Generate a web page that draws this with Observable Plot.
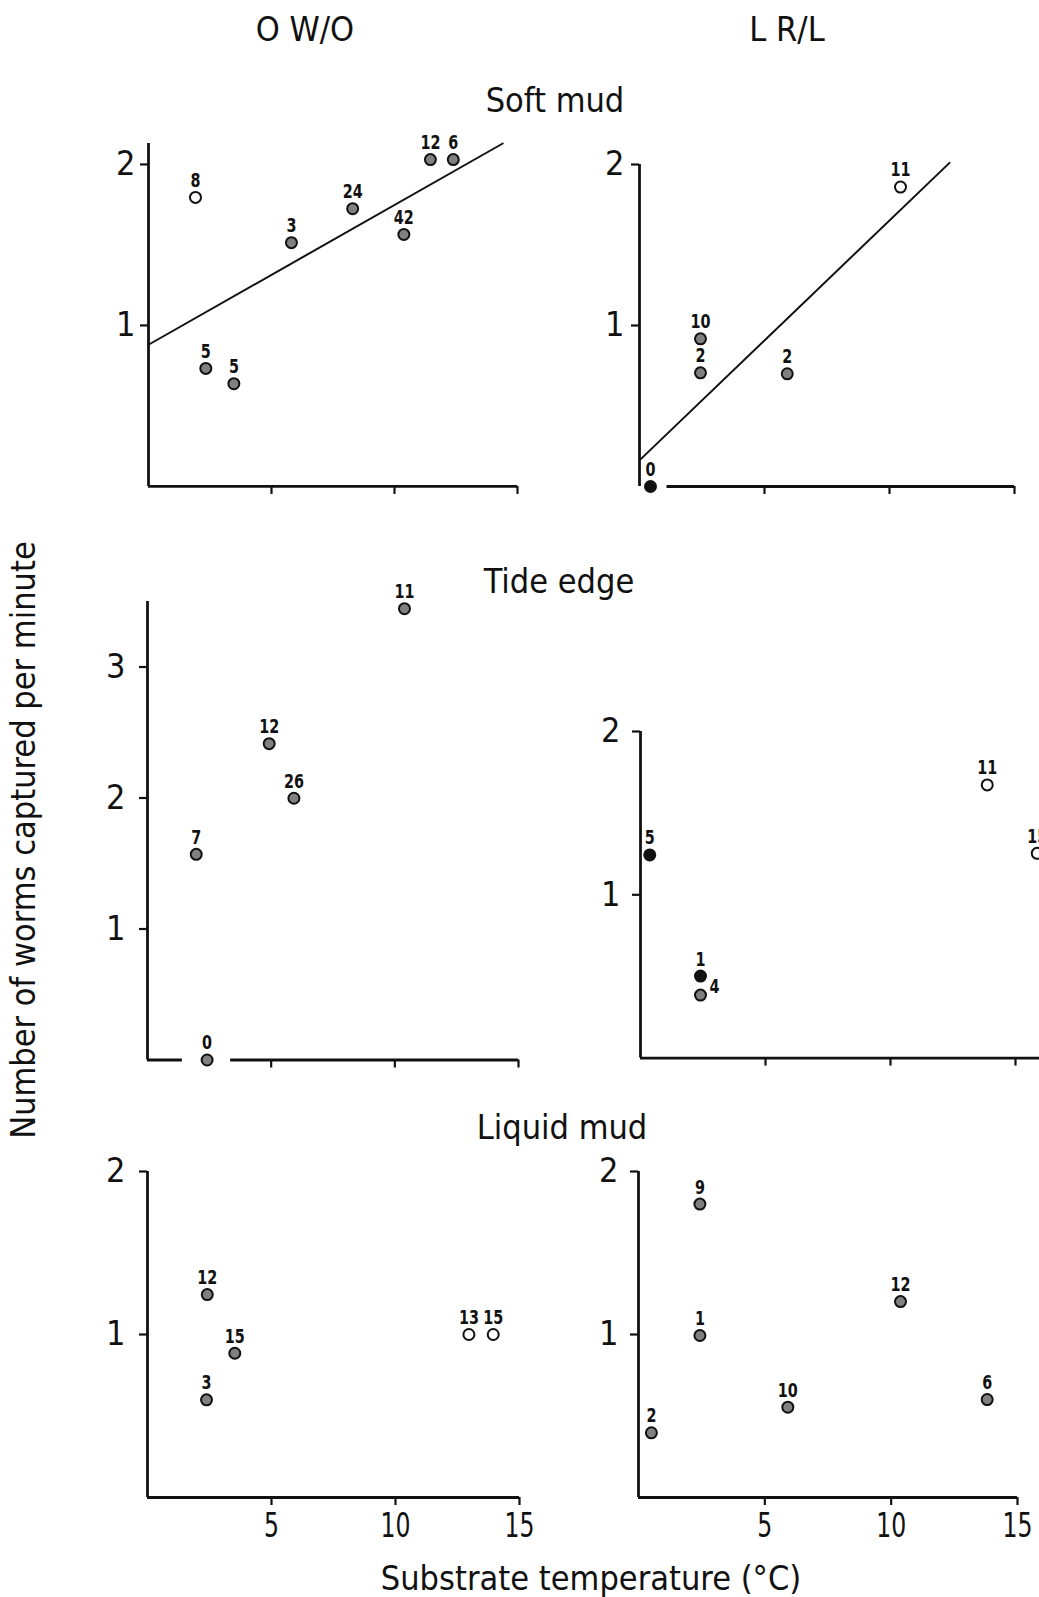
<!DOCTYPE html>
<html>
<head>
<meta charset="utf-8">
<script src="https://cdn.jsdelivr.net/npm/d3@7"></script>
<script src="https://cdn.jsdelivr.net/npm/@observablehq/plot@0.6"></script>
<style>
html, body { margin: 0; padding: 0; background: #fff; overflow: hidden; }
#fig { position: relative; width: 1039px; height: 1597px; overflow: hidden; background: #fff; }
.panel { position: absolute; }
.panel svg { max-width: none; display: block; }
#overlay { position: absolute; left: 0; top: 0; pointer-events: none; }
</style>
</head>
<body>
<div id="fig"></div>
<script>
// ---------------- text ----------------
const columnHeaders = ["O W/O", "L R/L"];
const substrates = ["Soft mud", "Tide edge", "Liquid mud"];
const yAxisLabel = "Number of worms captured per minute";
const xAxisLabel = "Substrate temperature (°C)";
const xTicks = [5, 10, 15];

// ---------------- data ----------------
// Soft mud, O W/O
const softO_temp = [1.91, 2.33, 3.47, 5.81, 8.30, 10.38, 11.46, 12.39];
const softO_rate = [1.795, 0.733, 0.638, 1.514, 1.725, 1.565, 2.03, 2.03];
const softO_n    = ["8", "5", "5", "3", "24", "42", "12", "6"];
const softO_kind = ["open", "hatched", "hatched", "hatched", "hatched", "hatched", "hatched", "hatched"];
const softO_fitTemp = [0, 14.4];
const softO_fitRate = [0.88, 2.13];

// Soft mud, L R/L
const softL_temp = [0.44, 2.44, 2.44, 5.91, 10.44];
const softL_rate = [0.0, 0.917, 0.706, 0.70, 1.86];
const softL_n    = ["0", "10", "2", "2", "11"];
const softL_kind = ["solid", "hatched", "hatched", "hatched", "open"];
const softL_fitTemp = [0.05, 12.4];
const softL_fitRate = [0.17, 2.01];

// Tide edge, O W/O
const tideO_temp = [1.97, 2.41, 4.92, 5.92, 10.39];
const tideO_rate = [1.57, 0.0, 2.415, 1.998, 3.445];
const tideO_n    = ["7", "0", "12", "26", "11"];
const tideO_kind = ["hatched", "hatched", "hatched", "hatched", "hatched"];

// Tide edge, L R/L
const tideL_temp = [0.37, 2.40, 2.40, 13.87, 15.87];
const tideL_rate = [1.244, 0.502, 0.386, 1.673, 1.254];
const tideL_n    = ["5", "1", "4", "11", "15"];
const tideL_kind = ["solid", "solid", "hatched", "open", "open"];

// Liquid mud, O W/O
const liqO_temp = [2.41, 3.52, 2.38, 12.96, 13.94];
const liqO_rate = [1.245, 0.885, 0.599, 1.0, 1.0];
const liqO_n    = ["12", "15", "3", "13", "15"];
const liqO_kind = ["hatched", "hatched", "hatched", "open", "open"];

// Liquid mud, L R/L
const liqL_temp = [2.43, 2.43, 0.51, 5.91, 10.37, 13.80];
const liqL_rate = [1.80, 0.994, 0.397, 0.554, 1.202, 0.601];
const liqL_n    = ["9", "1", "2", "10", "12", "6"];
const liqL_kind = ["hatched", "hatched", "hatched", "hatched", "hatched", "hatched"];

// ---------------- styling / layout ----------------
const FONT = '"DejaVu Sans Condensed", "DejaVu Sans", sans-serif';
const INK = "#111";
const fills = {open: "#ffffff", hatched: "#808080", solid: "#111111"};

const fig = document.getElementById("fig");

function rows(t, r, n, k) {
  return t.map((v, i) => ({t: v, r: r[i], n: n[i], k: k[i], fill: fills[k[i]], i}));
}

function panel(data, fit, L) {
  const mL = 70, mR = 20, mT = 30, mB = 70;
  const pxPerUnit = (L.x15 - L.x0) / 15;
  const w = pxPerUnit * L.xMax;
  const h = L.yunit * L.yMax;
  const width = mL + w + mR;
  const height = mT + h + mB;
  const right = new Set(L.labelRight || []);
  const segs = (L.xSeg || [[0, L.xMax]]).map(([a, b]) => ({a, b}));
  const marks = [
    Plot.ruleX([0], {y1: 0, y2: L.yMax, stroke: INK, strokeWidth: 2.8}),
    Plot.ruleY(segs, {y: 0, x1: "a", x2: "b", stroke: INK, strokeWidth: 2.8}),
    Plot.axisY({ticks: L.yTicks, tickSize: 8, tickPadding: L.tickPad, tickFormat: d => String(d),
                label: null, strokeWidth: 2.2, fontSize: 34}),
    Plot.axisX({ticks: xTicks, tickSize: 8, tickPadding: 7, tickFormat: L.xLabels ? (d => String(d)) : (() => ""),
                label: null, strokeWidth: 2.2, fontSize: 34})
  ];
  if (fit) {
    const fr = fit.t.map((v, i) => ({t: v, r: fit.r[i]}));
    marks.push(Plot.line(fr, {x: "t", y: "r", stroke: INK, strokeWidth: 2}));
  }
  marks.push(Plot.dot(data, {x: "t", y: "r", r: 5.5, fill: "fill", stroke: INK, strokeWidth: 2}));
  marks.push(Plot.text(data.filter(d => !right.has(d.i)), {x: "t", y: "r", text: "n", dy: -17,
              fontSize: 20, fontWeight: "bold", fill: INK}));
  marks.push(Plot.text(data.filter(d => right.has(d.i)), {x: "t", y: "r", text: "n", dx: 14, dy: -8,
              fontSize: 20, fontWeight: "bold", fill: INK}));
  const svg = Plot.plot({
    width, height,
    marginLeft: mL, marginRight: mR, marginTop: mT, marginBottom: mB,
    x: {domain: [0, L.xMax]},
    y: {domain: [0, L.yMax]},
    color: {type: "identity"},
    style: {fontFamily: FONT, fontSize: "34px", color: INK, background: "transparent", overflow: "visible"},
    marks
  });
  // narrow, stencil-like lettering for the sample-size labels
  svg.querySelectorAll('g[aria-label="text"] text').forEach(el => {
    const n = el.textContent.length;
    el.setAttribute("textLength", n * 10);
    el.setAttribute("lengthAdjust", "spacingAndGlyphs");
  });
  // slightly narrower x tick labels
  svg.querySelectorAll('g[aria-label="x-axis tick label"] text').forEach(el => {
    const n = el.textContent.length;
    if (n) {
      el.setAttribute("textLength", n * 15);
      el.setAttribute("lengthAdjust", "spacingAndGlyphs");
    }
  });
  const div = document.createElement("div");
  div.className = "panel";
  div.style.left = (L.x0 - mL) + "px";
  div.style.top = (L.ybase - h - mT) + "px";
  div.appendChild(svg);
  fig.appendChild(div);
}

panel(rows(softO_temp, softO_rate, softO_n, softO_kind), {t: softO_fitTemp, r: softO_fitRate},
  {x0: 148, x15: 517, xMax: 15, ybase: 486, yunit: 161, yMax: 2.13, yTicks: [1, 2], tickPad: 5, xLabels: false});
panel(rows(softL_temp, softL_rate, softL_n, softL_kind), {t: softL_fitTemp, r: softL_fitRate},
  {x0: 639, x15: 1014, xMax: 15, ybase: 486, yunit: 161, yMax: 2, yTicks: [1, 2], tickPad: 7, xLabels: false,
   xSeg: [[1.1, 15]]});
panel(rows(tideO_temp, tideO_rate, tideO_n, tideO_kind), null,
  {x0: 147, x15: 518, xMax: 15, ybase: 1059, yunit: 131, yMax: 3.5, yTicks: [1, 2, 3], tickPad: 14, xLabels: false,
   xSeg: [[0, 1.41], [3.36, 15]]});
panel(rows(tideL_temp, tideL_rate, tideL_n, tideL_kind), null,
  {x0: 640, x15: 1015, xMax: 16, ybase: 1058, yunit: 163.3, yMax: 2, yTicks: [1, 2], tickPad: 12, xLabels: false,
   labelRight: [2]});
panel(rows(liqO_temp, liqO_rate, liqO_n, liqO_kind), null,
  {x0: 147, x15: 519, xMax: 15, ybase: 1497, yunit: 163, yMax: 2, yTicks: [1, 2], tickPad: 14, xLabels: true});
panel(rows(liqL_temp, liqL_rate, liqL_n, liqL_kind), null,
  {x0: 638, x15: 1017, xMax: 15, ybase: 1497, yunit: 163, yMax: 2, yTicks: [1, 2], tickPad: 12, xLabels: true});

// ---------------- titles and axis labels ----------------
const ov = d3.select(fig).append("svg").attr("id", "overlay")
  .attr("width", 1039).attr("height", 1597)
  .style("font-family", FONT).style("font-size", "34px").attr("fill", INK);

const headerPos = [[305, 41], [787, 41]];
columnHeaders.forEach((t, i) => ov.append("text").attr("x", headerPos[i][0]).attr("y", headerPos[i][1])
  .attr("text-anchor", "middle").text(t));
const subPos = [[555, 112], [559, 593], [562, 1139]];
substrates.forEach((t, i) => ov.append("text").attr("x", subPos[i][0]).attr("y", subPos[i][1])
  .attr("text-anchor", "middle").text(t));
ov.append("text").attr("x", 591).attr("y", 1590).attr("text-anchor", "middle").text(xAxisLabel);
ov.append("text").attr("transform", "translate(35,840) rotate(-90)").attr("text-anchor", "middle").text(yAxisLabel);
</script>
</body>
</html>
